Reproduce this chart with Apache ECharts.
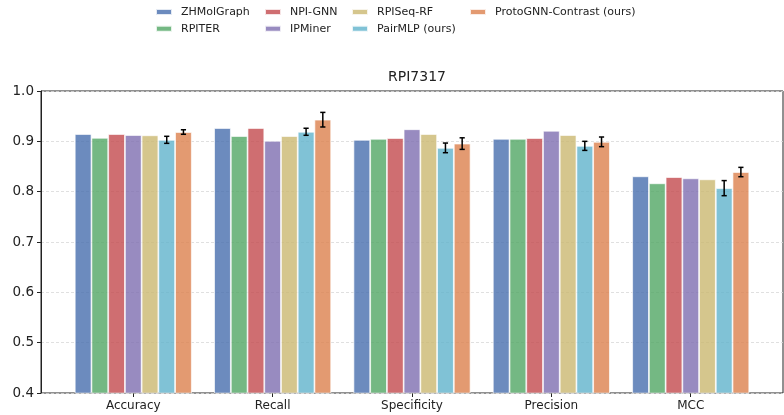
<!DOCTYPE html>
<html>
<head>
<meta charset="utf-8">
<script src="https://cdn.jsdelivr.net/npm/echarts@6/dist/echarts.min.js"></script>
<style>html,body{margin:0;padding:0;background:#fff}#c{width:784px;height:415px}</style>
</head>
<body>
<div id="c"></div>
<script>
const categories = ['Accuracy', 'Recall', 'Specificity', 'Precision', 'MCC'];
const methods = ['ZHMolGraph', 'RPITER', 'NPI-GNN', 'IPMiner', 'RPISeq-RF', 'PairMLP (ours)', 'ProtoGNN-Contrast (ours)'];
const zhmol   = [0.9145, 0.9265, 0.903, 0.905, 0.8305];
const rpiter  = [0.907, 0.9105, 0.905, 0.905, 0.8166];
const npignn  = [0.9145, 0.9265, 0.9066, 0.9066, 0.829];
const ipminer = [0.9125, 0.901, 0.924, 0.921, 0.8265];
const rpiseq  = [0.912, 0.9105, 0.9145, 0.9125, 0.8245];
const pairmlp = [0.903, 0.919, 0.887, 0.891, 0.807];
const pairmlpErr = [0.007, 0.007, 0.0096, 0.009, 0.015];
const proto   = [0.9185, 0.943, 0.8955, 0.899, 0.839];
const protoErr = [0.0045, 0.0145, 0.0115, 0.0096, 0.0093];
const yTicks = [0.4, 0.5, 0.6, 0.7, 0.8, 0.9, 1.0];

const colors = ['#4C72B0', '#55A868', '#C44E52', '#8172B2', '#CCB974', '#64B5CD', '#DD8452'];
const values = [zhmol, rpiter, npignn, ipminer, rpiseq, pairmlp, proto];
const errs = {5: pairmlpErr, 6: protoErr};
const FONT = 'DejaVu Sans';

const series = [];
values.forEach((vals, k) => {
  series.push({
    name: methods[k], type: 'bar', xAxisIndex: 1, yAxisIndex: 1,
    barWidth: '12%', barGap: '0%',
    itemStyle: {color: colors[k], opacity: 0.82, borderColor: '#fff', borderWidth: 0.8},
    data: vals
  });
});
Object.keys(errs).forEach(kStr => {
  const k = +kStr;
  series.push({
    type: 'custom', xAxisIndex: 1, yAxisIndex: 1, z: 10, silent: true,
    encode: {x: 0, y: 1},
    data: values[k].map((v, i) => [i, v, errs[k][i]]),
    renderItem: function (params, api) {
      const i = api.value(0), v = api.value(1), e = api.value(2);
      const band = api.size([1, 0])[0];
      const bw = band * 0.12;
      const c = api.coord([i, v]);
      const x = c[0] + (k - 3) * bw;
      const yt = api.coord([i, v + e])[1];
      const yb = api.coord([i, v - e])[1];
      const cap = 2.6;
      const st = {stroke: '#000', lineWidth: 1.5};
      return {type: 'group', children: [
        {type: 'line', shape: {x1: x, y1: yt, x2: x, y2: yb}, style: st},
        {type: 'line', shape: {x1: x - cap, y1: yt, x2: x + cap, y2: yt}, style: st},
        {type: 'line', shape: {x1: x - cap, y1: yb, x2: x + cap, y2: yb}, style: st}
      ]};
    }
  });
});

const legendCols = [[0, 1], [2, 3], [4, 5], [6]];
const legendLefts = [155, 264, 351, 469];
const legends = legendCols.map((col, j) => ({
  orient: 'vertical', left: legendLefts[j], top: 6.5, padding: 0,
  itemWidth: 16, itemHeight: 6, itemGap: 5.7,
  icon: 'rect', selectedMode: false,
  textStyle: {fontFamily: FONT, fontSize: 11, color: '#222', padding: [0, 0, 0, 4]},
  data: col.map(k => methods[k])
}));

const option = {
  animation: false,
  color: colors,
  title: {text: 'RPI7317', left: 412, textAlign: 'center', top: 65,
    textStyle: {fontFamily: FONT, fontSize: 14, fontWeight: 'normal', color: '#222'}},
  legend: legends,
  grid: [
    {left: 41, right: 1, top: 91, bottom: 22, show: true, borderColor: '#222', borderWidth: 1, containLabel: false},
    {left: 63.6, right: 23.6, top: 91, bottom: 22, containLabel: false}
  ],
  xAxis: [
    {gridIndex: 0, type: 'value', min: 0, max: 1, show: false},
    {gridIndex: 1, type: 'category', data: categories,
      axisLine: {show: false},
      axisTick: {show: true, alignWithLabel: true, length: 4, lineStyle: {color: '#222'}},
      axisLabel: {fontFamily: FONT, fontSize: 12, color: '#222', margin: 7}}
  ],
  yAxis: [
    {gridIndex: 0, type: 'value', min: 0.4, max: 1.0, interval: 0.1,
      axisLine: {show: true, lineStyle: {color: '#222'}},
      axisTick: {show: true, length: 4, lineStyle: {color: '#222'}},
      axisLabel: {fontFamily: FONT, fontSize: 13.5, color: '#222', margin: 7,
        formatter: v => { const t = yTicks.find(x => Math.abs(x - v) < 1e-6); return t === undefined ? '' : t.toFixed(1); }},
      splitLine: {show: true, lineStyle: {color: '#d8d8d8', type: [3, 2], width: 0.8}}},
    {gridIndex: 1, type: 'value', min: 0.4, max: 1.0, show: false, splitLine: {show: false}}
  ],
  series: series
};
const chart = echarts.init(document.getElementById('c'), null, {renderer: 'canvas'});
chart.setOption(option);
</script>
</body>
</html>
